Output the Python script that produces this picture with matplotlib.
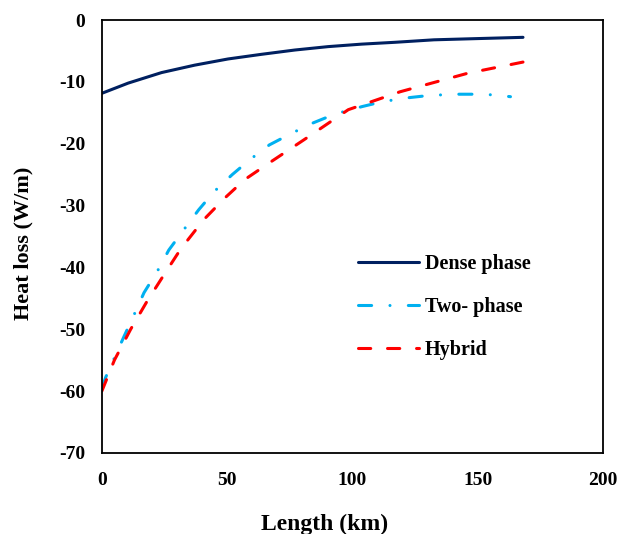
import matplotlib
matplotlib.use("Agg")
import matplotlib.pyplot as plt
import numpy as np

# Data
dense_x = [0, 10.5, 23.8, 37, 50.3, 63.6, 77, 90.3, 103.6, 117, 132.5, 150, 168]
dense_y = [-11.85, -10.2, -8.5, -7.3, -6.3, -5.55, -4.85, -4.3, -3.9, -3.6, -3.2, -3.0, -2.8]

two_x = [0, 1.6, 8.8, 12.8, 16.8, 22.3, 26.7, 32.7, 38.6, 44.9, 52, 59.3, 66.8, 75.8, 83.9, 93,
         103.8, 112, 121.5, 130.5, 141, 149.6, 156, 163]
two_y = [-59.5, -57.7, -51.2, -47.7, -44.1, -40.5, -37.2, -33.9, -30.7, -27.7, -25.0, -22.5, -20.2,
         -18.3, -16.7, -15.2, -14.0, -13.2, -12.6, -12.2, -12.0, -12.0, -12.1, -12.4]

hyb_x = [0, 5, 11.5, 18, 24.3, 31.5, 40.6, 49, 57, 66.8, 80.5, 98.3, 119, 146, 168]
hyb_y = [-60, -55, -50, -45.5, -41.5, -37, -32.3, -28.8, -25.8, -23.1, -19.4, -14.5, -11.6, -8.6, -6.8]

series_names = ["Dense phase", "Two- phase", "Hybrid"]
x_ticks = [0, 50, 100, 150, 200]
y_ticks = [0, -10, -20, -30, -40, -50, -60, -70]

plt.rcParams['font.family'] = ['Liberation Serif', 'DejaVu Serif']
plt.rcParams['font.weight'] = 'bold'

fig = plt.figure(figsize=(6.29, 5.34), dpi=100)
ax = fig.add_axes([0.162, 0.152, 0.797, 0.8105])

lw = 2.2
ax.plot(dense_x, dense_y, color='#002060', lw=lw, solid_capstyle='round', label=series_names[0])
ax.plot(two_x, two_y, color='#00B0F0', lw=lw, dashes=(4.3, 6.0, 0.01, 6.0),
        dash_capstyle='round', label=series_names[1])
ax.plot(hyb_x, hyb_y, color='#FF0000', lw=lw, dashes=(4, 5.5),
        dash_capstyle='round', label=series_names[2])

ax.set_xlim(0, 200)
ax.set_ylim(-70, 0)
ax.set_xticks(x_ticks)
ax.set_yticks(y_ticks)
ax.set_xticklabels([str(v) for v in x_ticks], fontsize=14, fontweight='bold')
ax.set_yticklabels([str(v) for v in y_ticks], fontsize=14, fontweight='bold')
ax.tick_params(axis='y', length=0, pad=12)
ax.tick_params(axis='x', length=0, pad=13.5)
for s in ax.spines.values():
    s.set_linewidth(1.3)
    s.set_color('black')

ax.set_xlabel("Length (km)", fontsize=17, fontweight='bold')
ax.set_ylabel("Heat loss (W/m)", fontsize=16, fontweight='bold')
ax.xaxis.set_label_coords(0.445, -0.142)
ax.yaxis.set_label_coords(-0.137, 0.483)

leg = ax.legend(loc='upper left', bbox_to_anchor=(0.511, 0.46), frameon=False,
                prop={'family': 'Liberation Serif', 'weight': 'bold', 'size': 14.5},
                handlelength=3.05, handletextpad=0.25, labelspacing=1.15,
                borderpad=0, borderaxespad=0)

fig.savefig("out.png", dpi=100)
